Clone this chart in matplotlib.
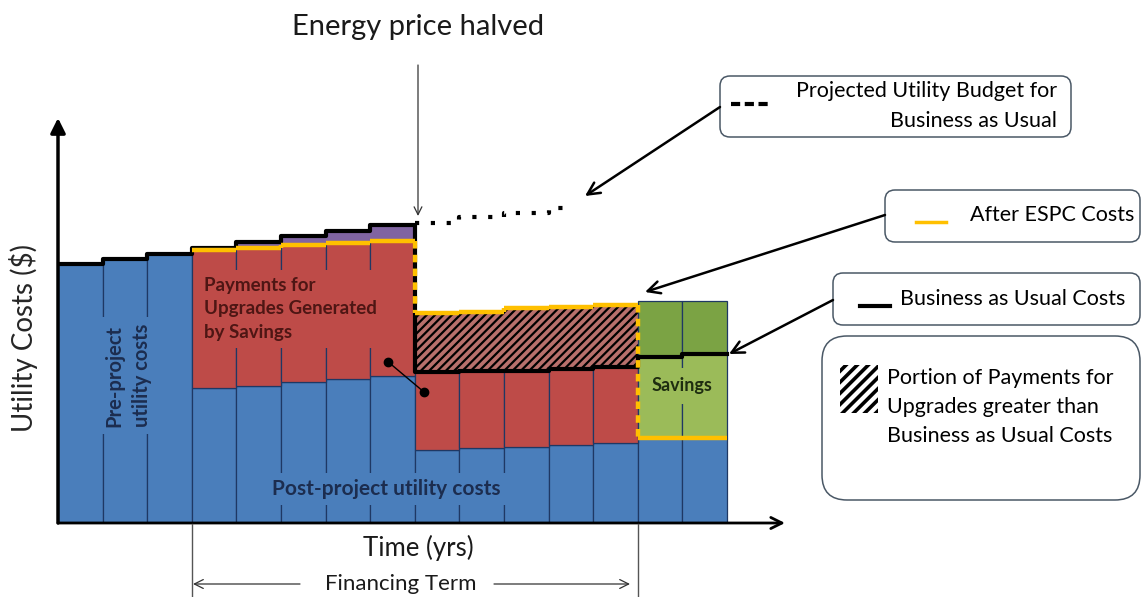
import numpy as np
import matplotlib
matplotlib.use("Agg")
import matplotlib.pyplot as plt
import matplotlib.transforms as mtrans
from matplotlib.patches import FancyBboxPatch, Rectangle

plt.rcParams['font.family'] = ['Lato', 'DejaVu Sans']

# ---- data (arbitrary cost units, one bar per year) ----
pre_years = [0, 1, 2]
pre_cost = [64.8, 66.0, 67.3]

fin_years = [3, 4, 5, 6, 7, 8, 9, 10, 11, 12]
fin_post = [33.8, 34.3, 35.3, 36.0, 36.8, 18.3, 18.8, 19.0, 19.5, 20.0]
fin_espc = [68.3, 68.8, 69.5, 70.0, 70.5, 52.5, 52.8, 53.8, 54.0, 54.5]

after_years = [13, 14]
after_post = [21.2, 21.2]
after_top = [55.5, 55.5]

bau = [64.8, 66.0, 67.3, 68.8, 70.3, 71.8, 73.1, 74.4,
       37.8, 37.9, 38.1, 38.5, 39.0, 41.5, 42.3]

proj_years = [8, 9, 10, 11, 11.55]
proj_budget = [75.0, 76.6, 77.6, 78.8, 78.8]

link_years = [7.4, 8.2]
link_costs = [40.3, 32.8]

BLUE = '#4A7EBB'
RED = '#BE4B48'
PURPLE = '#8064A2'
GREEN_D = '#7BA344'
GREEN_L = '#9BBB59'
YELLOW = '#FFC000'
EDGE = '#1F3864'

W, H = 1143, 597
fig = plt.figure(figsize=(W / 100, H / 100), dpi=100)
ax = fig.add_axes([58 / W, 74 / H, 727 / W, 405 / H])
ax.set_xlim(0, 727 / 44.6)
ax.set_ylim(0, 405 / 4)
for s in ax.spines.values():
    s.set_visible(False)
ax.set_xticks([])
ax.set_yticks([])

# bars
ax.bar(pre_years, pre_cost, width=1, align='edge', color=BLUE, edgecolor=EDGE, lw=0.9, zorder=2)
ax.bar(fin_years + after_years, fin_post + after_post, width=1, align='edge',
       color=BLUE, edgecolor=EDGE, lw=0.9, zorder=2)

fin_bau = np.array(bau[3:13])
fpost = np.array(fin_post)
fesp = np.array(fin_espc)
red_top = np.minimum(fesp, fin_bau)
ax.bar(fin_years, red_top - fpost, bottom=fpost, width=1, align='edge',
       color=RED, edgecolor=EDGE, lw=0.9, zorder=2)
over = fesp > fin_bau
yrs = np.array(fin_years)
ax.bar(yrs[~over], (fin_bau - fesp)[~over], bottom=fesp[~over], width=1, align='edge',
       color=PURPLE, lw=0, zorder=2)
with plt.rc_context({'hatch.linewidth': 1.6}):
    ax.bar(yrs[over], (fesp - fin_bau)[over], bottom=fin_bau[over], width=1, align='edge',
           color='#B8706C', edgecolor='black', hatch='////', lw=0, zorder=2)

a_bau = np.array(bau[13:])
ax.bar(after_years, a_bau - np.array(after_post), bottom=after_post, width=1, align='edge',
       color=GREEN_L, edgecolor=EDGE, lw=0.9, zorder=2)
ax.bar(after_years, np.array(after_top) - a_bau, bottom=a_bau, width=1, align='edge',
       color=GREEN_D, edgecolor=EDGE, lw=0.9, zorder=2)

# business as usual line
ax.step(np.arange(len(bau) + 1), bau + [bau[-1]], where='post', color='black', lw=3, zorder=4)

# after ESPC line
esp_x = fin_years + after_years
esp_y = fin_espc + after_post
ax.hlines(esp_y, esp_x, np.array(esp_x) + 1, color=YELLOW, lw=3.2, zorder=5)
for i in range(1, len(esp_x)):
    d = esp_y[i] - esp_y[i - 1]
    ls = (0, (1.7, 1.4)) if abs(d) > 5 else '-'
    ax.vlines(esp_x[i], esp_y[i - 1], esp_y[i], color=YELLOW, lw=3.2, linestyles=[ls], zorder=5)

# projected budget
ax.step(proj_years, proj_budget, where='post', color='black', lw=3,
        ls=(0, (1, 2.8)), zorder=4)

# link between red payments
ax.plot(link_years, link_costs, color='black', lw=1, marker='o', ms=6, zorder=6)

# axes arrows
ax.annotate('', xy=(0, 1), xytext=(0, 0), xycoords='axes fraction',
            arrowprops=dict(arrowstyle='-|>', lw=2.5, color='black', mutation_scale=22,
                            shrinkA=0, shrinkB=0), zorder=7)
ax.annotate('', xy=(1, 0), xytext=(0, 0), xycoords='axes fraction',
            arrowprops=dict(arrowstyle='->', lw=2, color='black', mutation_scale=20,
                            shrinkA=0, shrinkB=0), zorder=7)

ax.set_ylabel('Utility Costs ($)', fontsize=20, color='#262626')
ax.yaxis.set_label_coords(-0.027, 0.457)
ax.set_xlabel('Time (yrs)', fontsize=18.5, color='#1a1a1a')
ax.xaxis.set_label_coords(0.495, -0.03)

# labels inside bars
ax.text(1.58, 36.8, 'Pre-project\nutility costs', rotation=90, ha='center', va='center',
        fontsize=14.5, fontweight='bold', color='#1C2D4F', linespacing=1.45, zorder=6,
        bbox=dict(fc=BLUE, ec='none', pad=5))
ax.text(3.27, 61.5, 'Payments for\nUpgrades Generated\nby Savings', ha='left', va='top',
        fontsize=13.5, fontweight='bold', color='#4E1614', linespacing=1.45, zorder=6,
        bbox=dict(fc=RED, ec='none', pad=5))
ax.text(7.35, 8.5, 'Post-project utility costs', ha='center', va='center',
        fontsize=15, fontweight='bold', color='#1C2D4F', zorder=6,
        bbox=dict(fc=BLUE, ec='none', pad=4))
ax.text(14, 34.3, 'Savings', ha='center', va='center',
        fontsize=13, fontweight='bold', color='#1E2D10', zorder=6,
        bbox=dict(fc=GREEN_L, ec='none', pad=7))

# ---- annotation overlay in pixel coordinates ----
ov = fig.add_axes([0, 0, 1, 1], zorder=10)
ov.set_xlim(0, W)
ov.set_ylim(H, 0)
ov.axis('off')

ov.text(418, 27, 'Energy price halved', ha='center', va='center', fontsize=21, color='#1a1a1a')
ov.annotate('', xy=(418, 216), xytext=(418, 65),
            arrowprops=dict(arrowstyle='->', lw=0.9, color='#333333', mutation_scale=14,
                            shrinkA=0, shrinkB=0))

# financing term
blend = mtrans.blended_transform_factory(ax.transData, ov.transData)
for yr in [fin_years[0], fin_years[-1] + 1]:
    ov.plot([yr, yr], [524, 597], transform=blend, color='#555555', lw=1, clip_on=False)
ov.text(401, 584, 'Financing Term', ha='center', va='center', fontsize=16, color='#1a1a1a')
ov.annotate('', xy=(193, 584), xytext=(300, 584),
            arrowprops=dict(arrowstyle='->', lw=0.9, color='#333333', mutation_scale=16,
                            shrinkA=0, shrinkB=0))
ov.annotate('', xy=(630, 584), xytext=(494, 584),
            arrowprops=dict(arrowstyle='->', lw=0.9, color='#333333', mutation_scale=16,
                            shrinkA=0, shrinkB=0))


def box(x0, y0, x1, y1, r=10):
    ov.add_patch(FancyBboxPatch((x0, y0), x1 - x0, y1 - y0,
                                boxstyle='round,pad=0,rounding_size=%d' % r,
                                fc='white', ec='#4A5866', lw=1.1))


LFS = 15.5
box(720, 76, 1071, 137)
ov.plot([731, 772], [104, 104], color='black', lw=3, ls=(0, (2.2, 1.1)))
ov.text(1057, 91, 'Projected Utility Budget for', ha='right', va='center', fontsize=LFS)
ov.text(1057, 121, 'Business as Usual', ha='right', va='center', fontsize=LFS)

box(885, 190, 1140, 242)
ov.plot([916, 946], [222, 222], color=YELLOW, lw=2.5)
ov.text(970, 215, 'After ESPC Costs', ha='left', va='center', fontsize=LFS)

box(833, 273, 1140, 325)
ov.plot([860, 890], [306, 306], color='black', lw=3)
ov.text(900, 299, 'Business as Usual Costs', ha='left', va='center', fontsize=LFS)

box(822, 336, 1140, 500, r=25)
with plt.rc_context({'hatch.linewidth': 2.6}):
    ov.add_patch(Rectangle((840, 365), 38, 48, fc='white', ec='black', lw=0, hatch='///'))
ov.text(887, 378, 'Portion of Payments for', ha='left', va='center', fontsize=LFS)
ov.text(887, 407, 'Upgrades greater than', ha='left', va='center', fontsize=LFS)
ov.text(887, 436, 'Business as Usual Costs', ha='left', va='center', fontsize=LFS)

# pointers from legend boxes
for tail, head in [((720, 107), (585, 196)), ((885, 215), (645, 292)), ((833, 300), (729, 354))]:
    ov.annotate('', xy=head, xytext=tail,
                arrowprops=dict(arrowstyle='->', lw=1.8, color='black', mutation_scale=22,
                                shrinkA=0, shrinkB=0))

fig.savefig('out.png', dpi=100)
